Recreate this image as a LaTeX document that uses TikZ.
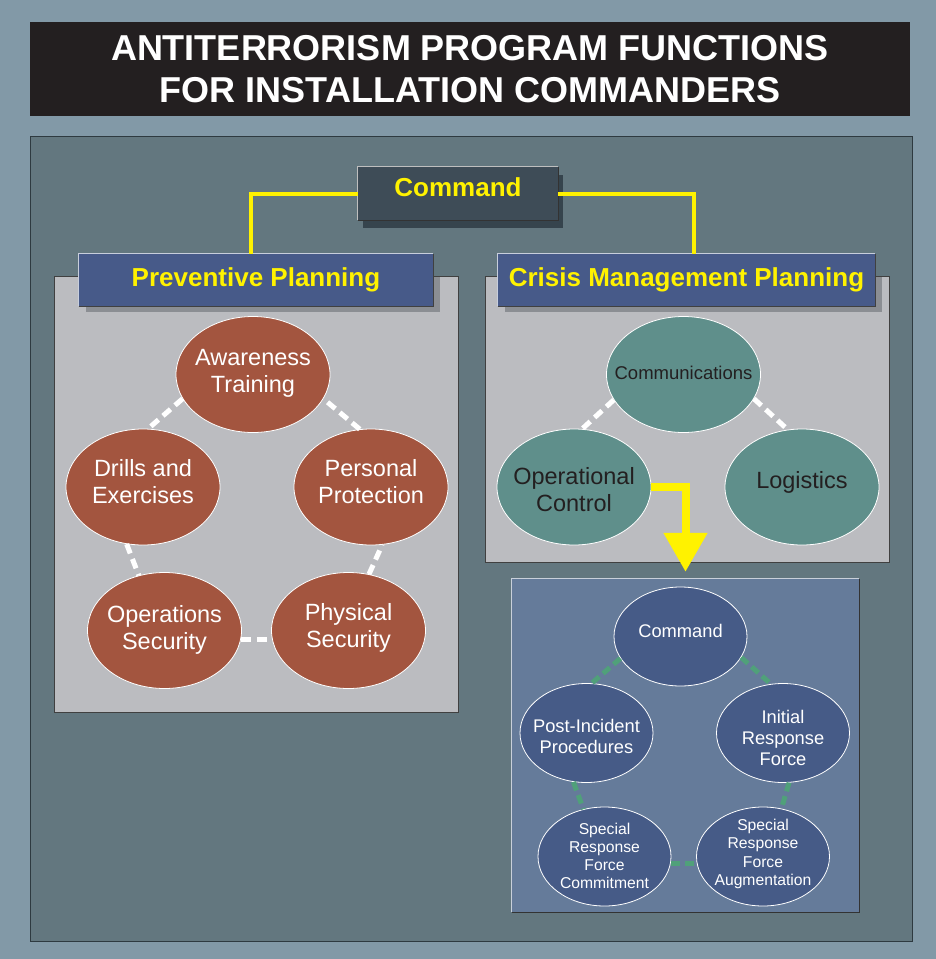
\documentclass[tikz,border=0pt]{standalone}
\usepackage{fontspec}
\setmainfont{Liberation Sans}
\usetikzlibrary{shapes.geometric,arrows.meta}
\definecolor{bgc}{HTML}{8299A7}
\definecolor{mainc}{HTML}{63777F}
\definecolor{titlec}{HTML}{231F20}
\definecolor{cmdc}{HTML}{3E4C57}
\definecolor{cmdshadow}{HTML}{36444D}
\definecolor{hdrc}{HTML}{475A89}
\definecolor{hdrshadow}{HTML}{8B8E93}
\definecolor{grayp}{HTML}{BBBCC0}
\definecolor{redc}{HTML}{A3553F}
\definecolor{tealc}{HTML}{5F8F8B}
\definecolor{lowc}{HTML}{657B9A}
\definecolor{bluec}{HTML}{465B87}
\definecolor{greenc}{HTML}{50A07A}
\definecolor{yel}{HTML}{FFF200}
\definecolor{darktxt}{HTML}{231F20}
\definecolor{edgedark}{HTML}{2E3A40}
\definecolor{edgelight}{HTML}{C9D0DA}
\newcommand\ctxt[2][0pt]{\smash{\makebox[0pt]{\raisebox{#1}{\begin{tabular}{@{}c@{}}#2\end{tabular}}}}}
\begin{document}
\begin{tikzpicture}[x=1pt,y=-1pt,
  titlebox/.style={rectangle, fill=titlec, minimum width=880pt, minimum height=94pt, inner sep=0pt, text=white, align=center, font=\bfseries\fontsize{36}{42}\selectfont},
  cmdbox/.style={rectangle, fill=cmdc, minimum width=200pt, minimum height=53pt, inner sep=0pt, text=yel, text depth=12pt, font=\bfseries\fontsize{26}{30}\selectfont},
  header/.style={rectangle, fill=hdrc, minimum height=52pt, inner sep=0pt, text=yel, font=\bfseries\fontsize{26}{30}\selectfont},
  redell/.style={ellipse, fill=redc, draw=white, line width=0.8pt, minimum width=154pt, minimum height=116pt, inner sep=0pt, text=white, font=\fontsize{23.5}{27}\selectfont},
  tealell/.style={ellipse, fill=tealc, draw=white, line width=0.8pt, minimum width=154pt, minimum height=116pt, inner sep=0pt, text=darktxt, font=\fontsize{23.5}{27}\selectfont},
  blueell/.style={ellipse, fill=bluec, draw=white, line width=0.8pt, minimum width=133pt, minimum height=99pt, inner sep=0pt, text=white, font=\fontsize{18.3}{21}\selectfont},
  smallell/.style={blueell, font=\fontsize{15.7}{18.3}\selectfont},
  lowpanel/.style={rectangle, fill=lowc, minimum width=347pt, minimum height=333pt, inner sep=0pt},
  wdash/.style={draw=white, line width=5pt, dash pattern=on 10pt off 6pt},
  gdash/.style={draw=greenc, line width=5pt, dash pattern=on 9pt off 5pt},
  yline/.style={draw=yel, line width=4pt, line join=miter},
  yarrow/.style={draw=yel, line width=8pt, line join=miter, shorten >=7pt, -{Triangle[width=42pt,length=39pt,fill=yel]}},
  paneledge/.style={draw=edgedark, line width=1pt}
]
\useasboundingbox (0,0) rectangle (936,959);
\fill[bgc] (0,0) rectangle (936,959);
% title
\node[titlebox] (title) at (470,69) {ANTITERRORISM PROGRAM FUNCTIONS\\FOR INSTALLATION COMMANDERS};
% main panel
\fill[mainc] (30,136) rectangle (912,941);
\draw[paneledge] (30,136) rectangle (912,941);
% gray panels
\fill[grayp] (54,276) rectangle (458,712);
\draw[paneledge, draw=black!75] (54,276) rectangle (458,712);
\fill[grayp] (485,276) rectangle (889,562);
\draw[paneledge, draw=black!75] (485,276) rectangle (889,562);
% shadows
\fill[cmdshadow] (363,175) rectangle (563,228);
\fill[hdrshadow] (86,277) rectangle (440,312);
\fill[hdrshadow] (505,277) rectangle (882,312);
% command and headers
\node[cmdbox] (cmd) at (458,193.5) {Command};
\draw[white!75!black, line width=0.8pt] (cmd.south west) |- (cmd.north east);
\draw[black!80, line width=0.8pt] (cmd.south west) -| (cmd.north east);
\node[header, minimum width=354pt] (prev) at (256,280) {Preventive Planning};
\node[header, minimum width=377pt] (crisis) at (686.5,280) {Crisis Management Planning};
\foreach \h in {prev,crisis}{
  \draw[white!70!hdrc, line width=0.8pt] (\h.south west) |- (\h.north east);
  \draw[black!75, line width=0.8pt] (\h.south west) -| (\h.north east);
}
\draw[yline] (cmd.west) -| ([xshift=-5pt]prev.north);
\draw[yline] (cmd.east) -| ([xshift=7.5pt]crisis.north);
% preventive planning ring
\node[redell] (aw) at (253,374.5) {\ctxt[-4.9pt]{Awareness\\Training}};
\node[redell] (dr) at (143,487) {\ctxt[-3.9pt]{Drills and\\Exercises}};
\node[redell] (pp) at (371,487) {\ctxt[-3.9pt]{Personal\\Protection}};
\node[redell] (os) at (164.5,630.5) {\ctxt[-6.4pt]{Operations\\Security}};
\node[redell] (ps) at (348.5,630.5) {\ctxt[-3.9pt]{Physical\\Security}};
\draw[wdash] (aw.199) -- (dr.85);
\draw[wdash] (dr.254) -- (os.115);
\draw[wdash] (os.353) -- (ps.187);
\draw[wdash] (ps.70) -- (pp.281);
\draw[wdash] (pp.101) -- (aw.341);
% crisis management
\node[tealell, font=\fontsize{18.5}{22}\selectfont] (com) at (683.5,374.5) {\ctxt[-5.3pt]{Communications}};
\node[tealell] (opc) at (574,487) {\ctxt[-11.4pt]{Operational\\Control}};
\node[tealell] (log) at (802,487) {\ctxt[-1.9pt]{Logistics}};
\draw[wdash] (com.200) -- (opc.82);
\draw[wdash] (com.341) -- (log.104);
% lower panel
\node[lowpanel] (crisisbox) at (685.5,745.5) {};
\draw[edgelight, line width=0.8pt] (crisisbox.south west) |- (crisisbox.north east);
\draw[black!80, line width=1pt] (crisisbox.south west) -| (crisisbox.north east);
\draw[yarrow] (opc.east) -| (crisisbox.north);
\node[blueell] (bcmd) at (680.5,636.5) {\ctxt[-1.4pt]{Command}};
\node[blueell] (post) at (586.5,733) {\ctxt[-10.4pt]{Post-Incident\\Procedures}};
\node[blueell] (irf) at (783,733) {\ctxt[-11.4pt]{Initial\\Response\\Force}};
\node[smallell] (srfc) at (604.5,856.5) {\ctxt[-4.9pt]{Special\\Response\\Force\\Commitment}};
\node[smallell] (srfa) at (763,856.5) {\ctxt[-1.4pt]{Special\\Response\\Force\\Augmentation}};
\draw[gdash] (bcmd.200) -- (post.84);
\draw[gdash] (bcmd.341) -- (irf.104);
\draw[gdash] (post.255) -- (srfc.114);
\draw[gdash] (srfc.354) -- (srfa.186);
\draw[gdash] (irf.277) -- (srfa.69);
\end{tikzpicture}
\end{document}
